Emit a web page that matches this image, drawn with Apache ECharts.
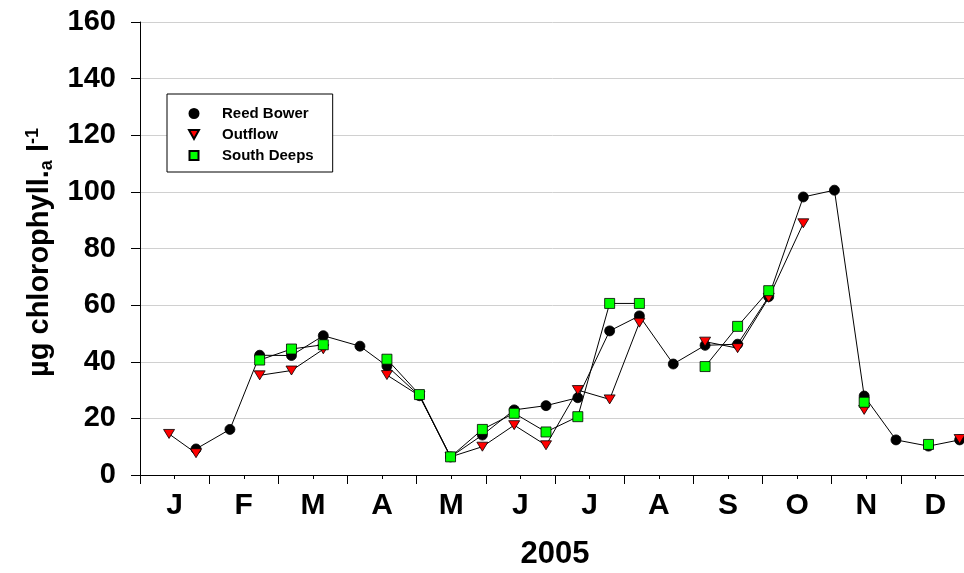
<!DOCTYPE html>
<html>
<head>
<meta charset="utf-8">
<script src="https://cdn.jsdelivr.net/npm/echarts@6/dist/echarts.min.js"></script>
<style>
  html, body { margin: 0; padding: 0; background: #fff; }
  #chart { width: 964px; height: 573px; }
</style>
</head>
<body>
<div id="chart"></div>
<script>
// Sampling dates, in months from 1 January 2005 (0 = start of January)
const sampleMonth = [0.42, 0.81, 1.30, 1.73, 2.19, 2.65, 3.18, 3.57, 4.04, 4.49, 4.95, 5.41, 5.87,
                     6.33, 6.79, 7.22, 7.71, 8.17, 8.64, 9.09, 9.59, 10.04, 10.47, 10.93, 11.40, 11.85];

// Chlorophyll a (µg l-1) at each site; null = not sampled
const reedBower  = [null, 9.2, 16.1, 42.3, 42.2, 49.2, 45.5, 38.5, 28.0, 6.4, 14.1, 23.0, 24.5,
                    27.3, 50.9, 56.2, 39.2, 45.8, 46.2, 63.0, 98.2, 100.6, 27.9, 12.4, 10.2, 12.4];
const outflow    = [14.5, 7.7, null, 35.2, 36.9, 44.4, null, 35.3, 28.0, 6.4, 10.0, 17.6, 10.5,
                    30.0, 26.7, 53.8, null, 47.1, 44.8, 62.6, 88.9, null, 23.0, null, null, 12.7];
const southDeeps = [null, null, null, 40.6, 44.5, 46.0, null, 40.9, 28.4, 6.4, 16.1, 21.8, 15.2,
                    20.6, 60.6, 60.6, null, 38.3, 52.5, 65.1, null, null, 25.7, null, 10.8, null];

const monthLabels = ['J', 'F', 'M', 'A', 'M', 'J', 'J', 'A', 'S', 'O', 'N', 'D'];
const yearLabel = '2005';

const FONT = 'Liberation Sans, Arial, Helvetica, sans-serif';
const TRIANGLE_DOWN = 'path://M0,0L10,0L5,9Z';
const SQUARE = 'path://M0,0L10,0L10,10L0,10Z';

function pairs(values) {
  return sampleMonth.map((m, i) => [m, values[i] === null ? '-' : values[i]]);
}

function siteSeries(name, values, symbol, size, fill, z) {
  return {
    name: name,
    type: 'line',
    data: pairs(values),
    xAxisIndex: 0,
    yAxisIndex: 0,
    symbol: symbol,
    symbolSize: size,
    showSymbol: true,
    showAllSymbol: true,
    connectNulls: false,
    animation: false,
    z: z,
    lineStyle: { color: '#000', width: 1 },
    itemStyle: { color: fill, borderColor: '#000', borderWidth: 0.8 },
    emphasis: { disabled: true }
  };
}

const chart = echarts.init(document.getElementById('chart'), null, { renderer: 'canvas' });

chart.setOption({
  backgroundColor: '#fff',
  animation: false,
  grid: { left: 140, top: 22, width: 830, height: 453, outerBoundsMode: 'none' },
  legend: {
    orient: 'vertical',
    left: 167,
    top: 94,
    padding: [12, 19, 9, 21],
    itemWidth: 46,
    itemHeight: 9,
    itemGap: 6,
    borderColor: '#000',
    borderWidth: 1,
    backgroundColor: '#fff',
    selectedMode: false,
    textStyle: { fontFamily: FONT, fontWeight: 'bold', fontSize: 15, color: '#000', lineHeight: 14 },
    data: [
      { name: 'Reed Bower', icon: 'circle' },
      { name: 'Outflow', icon: TRIANGLE_DOWN },
      { name: 'South Deeps', icon: SQUARE }
    ]
  },
  xAxis: [
    {
      type: 'value',
      min: 0,
      max: 12,
      interval: 1,
      position: 'bottom',
      axisLine: { show: true, onZero: false, lineStyle: { color: '#000', width: 1 } },
      axisTick: { show: true, inside: false, length: 9, lineStyle: { color: '#000', width: 1 } },
      minorTick: { show: true, splitNumber: 2, length: 4, lineStyle: { color: '#000', width: 1 } },
      axisLabel: { show: false },
      splitLine: { show: false }
    },
    {
      type: 'category',
      data: monthLabels,
      position: 'bottom',
      boundaryGap: true,
      axisLine: { show: false },
      axisTick: { show: false },
      axisLabel: { show: true, margin: 16, fontFamily: FONT, fontWeight: 'bold', fontSize: 30, color: '#000' },
      splitLine: { show: false }
    }
  ],
  yAxis: {
    type: 'value',
    min: 0,
    max: 160,
    interval: 20,
    axisLine: { show: true, lineStyle: { color: '#000', width: 1 } },
    axisTick: { show: true, inside: false, length: 9, lineStyle: { color: '#000', width: 1 } },
    axisLabel: { margin: 24, fontFamily: FONT, fontWeight: 'bold', fontSize: 29, color: '#000' },
    splitLine: { show: true, lineStyle: { color: '#d0d0d0', width: 1 } },
    name: '{b|\u00b5g chlorophyll.}{sub|a}{b| l}{sup|-1}',
    nameLocation: 'middle',
    nameRotate: 90,
    nameGap: 84,
    nameTextStyle: {
      padding: [0, 8, 0, 0],
      rich: {
        b: { fontFamily: FONT, fontWeight: 'bold', fontSize: 29, color: '#000', lineHeight: 32, verticalAlign: 'middle' },
        sub: { fontFamily: FONT, fontWeight: 'bold', fontSize: 18, color: '#000', lineHeight: 16, verticalAlign: 'bottom' },
        sup: { fontFamily: FONT, fontWeight: 'bold', fontSize: 18, color: '#000', lineHeight: 18, verticalAlign: 'top' }
      }
    }
  },
  graphic: [
    {
      type: 'text',
      x: 555,
      y: 554,
      style: { text: yearLabel, font: 'bold 31px ' + FONT, fill: '#000', align: 'center', verticalAlign: 'middle' }
    }
  ],
  series: [
    siteSeries('Reed Bower', reedBower, 'circle', 10, '#000', 3),
    siteSeries('Outflow', outflow, TRIANGLE_DOWN, [11, 9], '#ff0000', 4),
    siteSeries('South Deeps', southDeeps, SQUARE, 10, '#00ff00', 5)
  ]
});
</script>
</body>
</html>
